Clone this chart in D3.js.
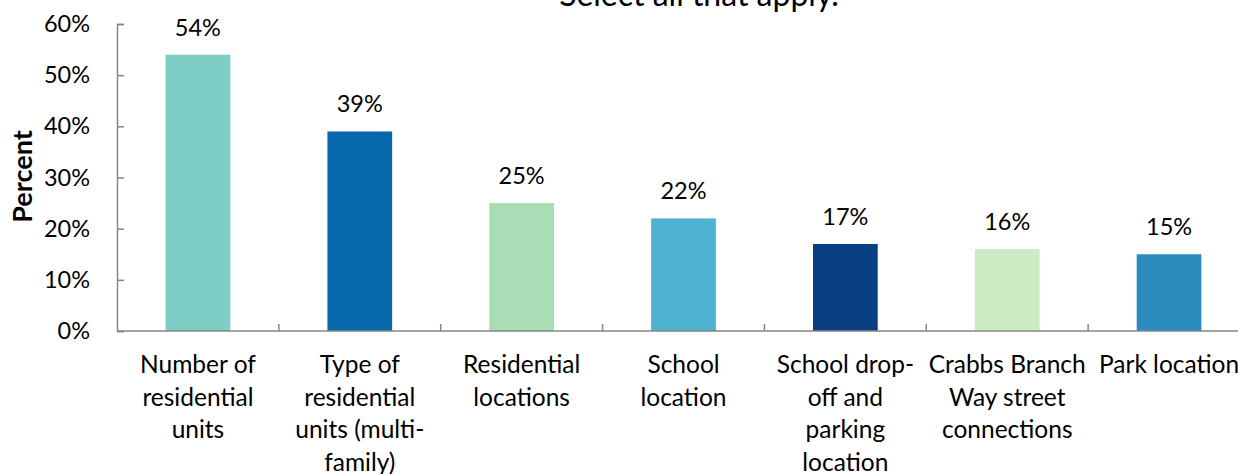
<!DOCTYPE html>
<html>
<head>
<meta charset="utf-8">
<script src="https://cdn.jsdelivr.net/npm/d3@7"></script>
<style>
  html, body { margin: 0; padding: 0; background: #fff; }
  svg { display: block; }
  text { font-family: Lato, "Open Sans", sans-serif; fill: #000; }
</style>
</head>
<body>
<svg id="chart" width="1238" height="474"></svg>
<script>
// Responses: what should be considered (select all that apply)
const categories = [
  "Number of\nresidential\nunits",
  "Type of\nresidential\nunits (multi-\nfamily)",
  "Residential\nlocations",
  "School\nlocation",
  "School drop-\noff and\nparking\nlocation",
  "Crabbs Branch\nWay street\nconnections",
  "Park location"
];
const values = [54, 39, 25, 22, 17, 16, 15];
const barColors = ["#7ecdc4", "#0868ac", "#a8ddb5", "#4eb3d3", "#084081", "#ccebc5", "#2b8cbe"];
const yTicks = [0, 10, 20, 30, 40, 50, 60];
const titleText = "Select all that apply.";
const yAxisTitle = "Percent";

const svg = d3.select("#chart");
const plotLeft = 117, plotRight = 1250, plotTop = 24, plotBottom = 331;

const x = d3.scaleBand().domain(d3.range(categories.length)).range([plotLeft, plotRight]).paddingInner(0.6).paddingOuter(0.3);
const xEdge = d3.scaleLinear().domain([0, categories.length]).range([plotLeft, plotRight]);
const y = d3.scaleLinear().domain([0, 60]).range([plotBottom, plotTop]);

// Title (partly above the visible area)
svg.append("text")
  .attr("x", 699).attr("y", 6)
  .attr("text-anchor", "middle")
  .style("font-size", "32px")
  .text(titleText);

// Bars
svg.selectAll("rect.bar").data(values).enter().append("rect")
  .attr("class", "bar")
  .attr("x", (d, i) => x(i))
  .attr("width", x.bandwidth())
  .attr("y", d => y(d))
  .attr("height", d => y(0) - y(d))
  .attr("fill", (d, i) => barColors[i]);

// Value labels
svg.selectAll("text.val").data(values).enter().append("text")
  .attr("class", "val")
  .attr("x", (d, i) => x(i) + x.bandwidth() / 2)
  .attr("y", d => y(d) - 19)
  .attr("text-anchor", "middle")
  .style("font-size", "23.5px")
  .text(d => d + "%");

const axisColor = "#868686";

// Y axis
const yAxis = d3.axisLeft(y).tickValues(yTicks).tickSize(-7).tickPadding(27).tickFormat(d => d + "%");
const gy = svg.append("g").attr("transform", `translate(${plotLeft},0)`).call(yAxis);
gy.select(".domain").attr("stroke", axisColor).attr("stroke-width", 1.5);
gy.selectAll(".tick line").attr("stroke", axisColor).attr("stroke-width", 1.5);
gy.selectAll(".tick text").style("font-size", "23.5px").style("font-family", "Lato, sans-serif").attr("fill", "#000");

// X axis line and category separators
svg.append("line")
  .attr("x1", plotLeft).attr("x2", plotRight).attr("y1", plotBottom).attr("y2", plotBottom)
  .attr("stroke", axisColor).attr("stroke-width", 1.5);
svg.selectAll("line.sep").data(d3.range(1, categories.length + 1)).enter().append("line")
  .attr("class", "sep")
  .attr("x1", d => xEdge(d)).attr("x2", d => xEdge(d))
  .attr("y1", plotBottom).attr("y2", plotBottom - 7)
  .attr("stroke", axisColor).attr("stroke-width", 1.5);

// Category labels
const catG = svg.selectAll("text.cat").data(categories).enter().append("text")
  .attr("class", "cat")
  .attr("text-anchor", "middle")
  .style("font-size", "24.5px")
  .attr("transform", (d, i) => `translate(${x(i) + x.bandwidth() / 2},${plotBottom + 42})`);
catG.each(function(d) {
  const t = d3.select(this);
  d.split("\n").forEach((line, k) => {
    t.append("tspan").attr("x", 0).attr("y", k * 32.5).text(line);
  });
});

// Y axis title
svg.append("text")
  .attr("transform", `translate(32,${(133 + 220) / 2}) rotate(-90)`)
  .attr("text-anchor", "middle")
  .style("font-size", "27px")
  .style("font-weight", "bold")
  .text(yAxisTitle);
</script>
</body>
</html>
